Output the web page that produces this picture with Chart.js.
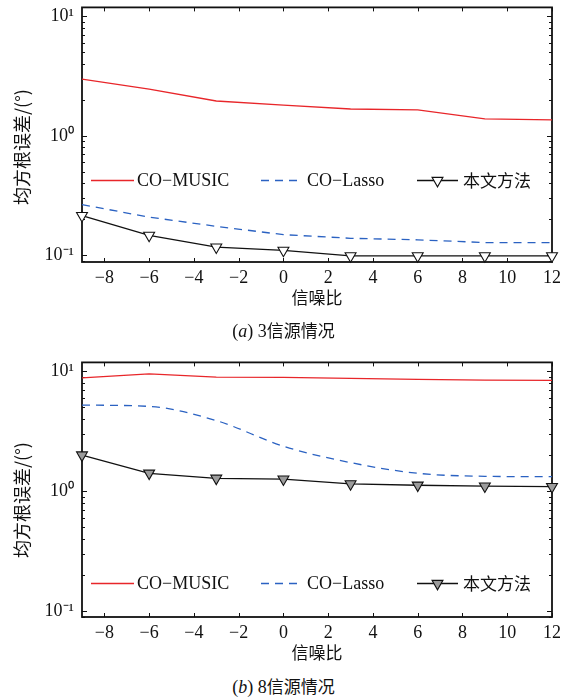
<!DOCTYPE html>
<html>
<head>
<meta charset="utf-8">
<script src="https://cdn.jsdelivr.net/npm/chart.js@4/dist/chart.umd.min.js"></script>
<style>
html,body{margin:0;padding:0;background:#fff;}
body{width:567px;height:699px;position:relative;overflow:hidden;font-family:"Liberation Serif",serif;color:#111;}
.wrap{position:absolute;left:0;width:567px;height:312px;}
.ytitle{position:absolute;left:21px;font-family:"Noto Sans CJK SC",sans-serif;font-size:18px;line-height:20px;white-space:nowrap;transform:translate(-50%,-50%) rotate(-90deg);color:#111;}
.cap{position:absolute;left:0;width:567px;text-align:center;font-size:18px;line-height:22px;color:#111;}
.cap .cjk{font-family:"Noto Sans CJK SC",sans-serif;font-size:17px;}
.legrow{position:absolute;left:0;width:567px;height:20px;}
.legrow svg{position:absolute;top:0;}
.legrow span{position:absolute;top:0;line-height:20px;font-size:18px;white-space:nowrap;color:#111;}
.legrow span.cjk{font-family:"Noto Sans CJK SC",sans-serif;font-size:17px;}
</style>
</head>
<body>
<div class="wrap" style="top:0"><canvas id="cA" width="567" height="312"></canvas></div>
<div class="wrap" style="top:355px"><canvas id="cB" width="567" height="312"></canvas></div>
<div class="ytitle" style="top:147px">均方根误差/(°)</div>
<div class="ytitle" style="top:500px">均方根误差/(°)</div>
<div class="legrow" id="legA" style="top:170px"></div>
<div class="legrow" id="legB" style="top:573px"></div>
<div class="cap" style="top:319px">(<i>a</i>) 3<span class="cjk">信源情况</span></div>
<div class="cap" style="top:675px">(<i>b</i>) 8<span class="cjk">信源情况</span></div>
<script>
// ---- data ----
const snr = [-9, -6, -3, 0, 3, 6, 9, 12];
const xTicks = [-8, -6, -4, -2, 0, 2, 4, 6, 8, 10, 12];
const yTicks = [0.1, 1, 10];
const yTickLabels = ['10\u207B\u00B9', '10\u2070', '10\u00B9'];
const seriesNames = ['CO\u2212MUSIC', 'CO\u2212Lasso', '本文方法'];
const xTitle = '信噪比';

const musicA = [2.99, 2.46, 1.96, 1.81, 1.68, 1.65, 1.39, 1.36];
const lassoA = [0.266, 0.209, 0.175, 0.149, 0.139, 0.135, 0.128, 0.128];
const oursA  = [0.215, 0.147, 0.117, 0.110, 0.099, 0.099, 0.099, 0.099];

const musicB = [8.82, 9.52, 8.93, 8.88, 8.71, 8.55, 8.43, 8.38];
const lassoB = [5.22, 5.09, 3.88, 2.37, 1.73, 1.41, 1.33, 1.32];
const oursB  = [2.00, 1.41, 1.28, 1.26, 1.15, 1.12, 1.10, 1.09];

// ---- styles ----
const RED = '#e8262a', BLUE = '#2b62c2', BLACK = '#111111';

const framePlugin = {
  id: 'frame',
  beforeDatasetsDraw(chart) {
    const {ctx, chartArea: a, scales: {x, y}} = chart;
    ctx.save();
    ctx.strokeStyle = '#111';
    ctx.lineWidth = 1;
    ctx.beginPath();
    x.ticks.forEach(t => {
      const px = Math.round(x.getPixelForValue(t.value)) + 0.5;
      ctx.moveTo(px, a.bottom); ctx.lineTo(px, a.bottom - 4);
      ctx.moveTo(px, a.top); ctx.lineTo(px, a.top + 4);
    });
    const k0 = Math.floor(Math.log10(y.min)), k1 = Math.ceil(Math.log10(y.max));
    for (let k = k0; k <= k1; k++) {
      for (let m = 1; m <= 9; m++) {
        const v = m * Math.pow(10, k);
        if (v < y.min || v > y.max) continue;
        const py = Math.round(y.getPixelForValue(v)) + 0.5;
        const len = m === 1 ? 5 : 3;
        ctx.moveTo(a.left, py); ctx.lineTo(a.left + len, py);
        ctx.moveTo(a.right, py); ctx.lineTo(a.right - len, py);
      }
    }
    ctx.stroke();
    ctx.lineWidth = 1.8;
    ctx.strokeRect(a.left, a.top, a.right - a.left, a.bottom - a.top);
    ctx.restore();
  }
};

function zeroPad(s) { s.paddingTop = 0; s.paddingBottom = 0; s.paddingLeft = 0; s.paddingRight = 0; }

function makeChart(id, music, lasso, ours, yMin, yMax, markerFill, smoothLasso, padTop) {
  const pts = arr => snr.map((x, i) => ({x: x, y: arr[i]}));
  return new Chart(document.getElementById(id), {
    type: 'line',
    data: {
      datasets: [
        {label: seriesNames[0], data: pts(music), borderColor: RED, borderWidth: 1.3, pointRadius: 0, tension: 0},
        {label: seriesNames[1], data: pts(lasso), borderColor: BLUE, borderWidth: 1.3, borderDash: [8, 6], pointRadius: 0,
         cubicInterpolationMode: smoothLasso ? 'monotone' : 'default', tension: 0},
        {label: seriesNames[2], data: pts(ours), borderColor: BLACK, borderWidth: 1.3, tension: 0,
         pointStyle: 'triangle', pointRotation: 180, pointRadius: 6.3, pointBackgroundColor: markerFill,
         pointBorderColor: BLACK, pointBorderWidth: 1.1, clip: false}
      ]
    },
    options: {
      responsive: false, animation: false, devicePixelRatio: 1,
      layout: {padding: {top: padTop, right: 15, left: 0, bottom: 0}},
      plugins: {legend: {display: false}, tooltip: {enabled: false}},
      scales: {
        x: {
          type: 'linear', min: -9, max: 12,
          grid: {display: false, drawTicks: false}, border: {display: false},
          afterBuildTicks: s => { s.ticks = xTicks.map(v => ({value: v})); },
          afterFit: s => { s.height = 50; zeroPad(s); },
          ticks: {padding: 5, color: '#111', autoSkip: false, maxRotation: 0,
                  font: {family: 'Liberation Serif', size: 18},
                  callback: v => v < 0 ? '\u2212' + Math.abs(v) : String(v)},
          title: {display: true, text: xTitle, color: '#111', padding: {top: 4, bottom: 4},
                  font: {family: 'Noto Sans CJK SC', size: 17}}
        },
        y: {
          type: 'logarithmic', min: yMin, max: yMax,
          grid: {display: false, drawTicks: false}, border: {display: false},
          afterBuildTicks: s => { s.ticks = yTicks.map(v => ({value: v})); },
          afterFit: s => { s.width = 82; zeroPad(s); },
          ticks: {padding: 8, color: '#111', autoSkip: false,
                  font: {family: 'Liberation Serif', size: 18},
                  callback: (v, i) => yTickLabels[i]}
        }
      }
    },
    plugins: [framePlugin]
  });
}

function buildLegend(elId, chart, fill) {
  const el = document.getElementById(elId);
  const ds = chart.data.datasets;
  const pos = [{l: 91, w: 43, t: 137}, {l: 261, w: 40, t: 307}, {l: 417, w: 41, t: 463}];
  ds.forEach((d, i) => {
    const p = pos[i];
    const ns = 'http://www.w3.org/2000/svg';
    const svg = document.createElementNS(ns, 'svg');
    svg.setAttribute('width', p.w); svg.setAttribute('height', 20);
    svg.style.left = p.l + 'px';
    const ln = document.createElementNS(ns, 'line');
    ln.setAttribute('x1', 0); ln.setAttribute('x2', p.w);
    ln.setAttribute('y1', 10.5); ln.setAttribute('y2', 10.5);
    ln.setAttribute('stroke', d.borderColor); ln.setAttribute('stroke-width', 1.3);
    if (d.borderDash) ln.setAttribute('stroke-dasharray', d.borderDash.join(' '));
    svg.appendChild(ln);
    if (d.pointRadius > 0) {
      const c = p.w / 2, r = d.pointRadius;
      const tri = document.createElementNS(ns, 'polygon');
      const h = r * Math.sqrt(3) / 2;
      tri.setAttribute('points', `${c - h},${10.5 - r / 2} ${c + h},${10.5 - r / 2} ${c},${10.5 + r}`);
      tri.setAttribute('fill', fill); tri.setAttribute('stroke', d.borderColor);
      tri.setAttribute('stroke-width', 1.1);
      svg.appendChild(tri);
    }
    el.appendChild(svg);
    const sp = document.createElement('span');
    sp.textContent = d.label;
    if (/[\u4e00-\u9fff]/.test(d.label)) sp.className = 'cjk';
    sp.style.left = p.t + 'px';
    el.appendChild(sp);
  });
}

const chartA = makeChart('cA', musicA, lassoA, oursA, 0.088, 11.9, '#ffffff', false, 6);
const chartB = makeChart('cB', musicB, lassoB, oursB, 0.0893, 11.85, '#9c9c9c', true, 3);
buildLegend('legA', chartA, '#ffffff');
buildLegend('legB', chartB, '#9c9c9c');
</script>
</body>
</html>
